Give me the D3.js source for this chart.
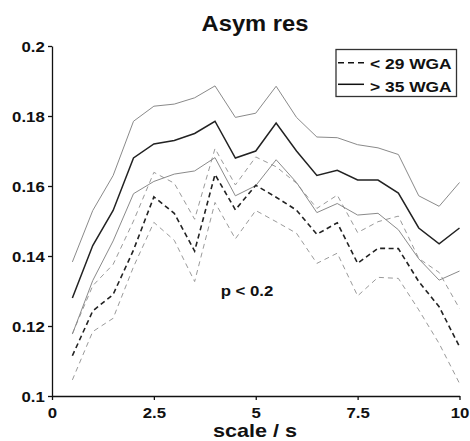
<!DOCTYPE html>
<html><head><meta charset="utf-8">
<script src="https://cdn.jsdelivr.net/npm/d3@7"></script>
<style>
html,body{margin:0;padding:0;background:#fff;}
svg{display:block;}
text{font-family:"Liberation Sans",Arial,sans-serif;font-weight:bold;fill:#111;}
</style></head>
<body>
<svg id="chart" width="470" height="441"></svg>
<script>
// ---- data ----
const scales = [0.5,1,1.5,2,2.5,3,3.5,4,4.5,5,5.5,6,6.5,7,7.5,8,8.5,9,9.5,10];
const late_mean  = [0.128,0.143,0.153,0.168,0.172,0.173,0.175,0.1785,0.168,0.170,0.178,0.170,0.163,0.1645,0.1617,0.1617,0.158,0.148,0.1435,0.148];
const late_upper = [0.1383,0.153,0.163,0.1785,0.1828,0.1834,0.1852,0.1886,0.1796,0.1808,0.1885,0.1796,0.174,0.1738,0.1718,0.1709,0.169,0.1572,0.1542,0.161];
const late_lower = [0.1177,0.133,0.1443,0.1578,0.1613,0.1634,0.1643,0.1681,0.1572,0.1601,0.1675,0.161,0.1524,0.155,0.1517,0.1522,0.1475,0.1392,0.1331,0.1357];
const early_mean  = [0.1115,0.1243,0.129,0.1417,0.1569,0.1522,0.1414,0.1633,0.1532,0.1602,0.1568,0.1531,0.1462,0.1495,0.1379,0.1422,0.1421,0.1327,0.1255,0.1141];
const early_upper = [0.1178,0.1315,0.1376,0.150,0.1639,0.1608,0.1505,0.1707,0.1603,0.1683,0.1655,0.1608,0.1536,0.1574,0.1467,0.1498,0.1514,0.1393,0.1353,0.125];
const early_lower = [0.1046,0.1184,0.1222,0.1369,0.1496,0.1445,0.1327,0.1553,0.1449,0.153,0.1498,0.1465,0.1379,0.1408,0.1286,0.1339,0.1336,0.1246,0.115,0.1036];
const xTicks = [0,2.5,5,7.5,10];
const xTickLabels = ["0","2.5","5","7.5","10"];
const yTicks = [0.1,0.12,0.14,0.16,0.18,0.2];
const yTickLabels = ["0.1","0.12","0.14","0.16","0.18","0.2"];
const legendLabels = ["< 29 WGA","> 35 WGA"];
const titleText = "Asym res";
const xTitle = "scale / s";
const annotation = "p < 0.2";

// ---- layout ----
const svg = d3.select("#chart");
const x = d3.scaleLinear().domain([0,10]).range([52,459.5]);
const y = d3.scaleLinear().domain([0.1,0.2]).range([396,46]);

function stext(g, px, py, str, size, sx, anchor){
  return g.append("g").attr("transform",`translate(${px},${py})`)
    .append("text").attr("transform",`scale(${sx},1)`)
    .attr("text-anchor",anchor).attr("font-size",size).text(str);
}

// axes
const yAxis = d3.axisLeft(y).tickValues(yTicks).tickFormat((d,i)=>yTickLabels[i])
  .tickSize(4).tickSizeOuter(0).tickPadding(2.5);
const gy = svg.append("g").attr("transform","translate(52,0)").call(yAxis);
gy.selectAll("text").attr("font-size",15).attr("fill","#111")
  .attr("font-family","Liberation Sans, Arial, sans-serif").attr("font-weight","bold")
  .attr("transform","scale(1.12,1)").attr("dy","0.36em");

const xAxis = d3.axisBottom(x).tickValues(xTicks).tickFormat((d,i)=>xTickLabels[i])
  .tickSize(4).tickSizeOuter(0).tickPadding(7);
const gx = svg.append("g").attr("transform","translate(0,396)").call(xAxis);
gx.selectAll("text").attr("font-size",15).attr("fill","#111")
  .attr("font-family","Liberation Sans, Arial, sans-serif").attr("font-weight","bold")
  .attr("transform","scale(1.12,1)")
  .attr("x",function(d){return 0;});
// scale about tick position: text x is 0 relative to tick group, so fine
[gx,gy].forEach(g=>{
  g.selectAll(".domain").attr("stroke","#111").attr("stroke-width",1.3);
  g.selectAll(".tick line").attr("stroke","#111").attr("stroke-width",1.3);
});

// lines
const line = d3.line().x((d,i)=>x(scales[i])).y(d=>y(d));
const series = [
  {v:early_upper, c:"#9a9a9a", w:1, dash:"5,4"},
  {v:early_lower, c:"#9a9a9a", w:1, dash:"5,4"},
  {v:late_upper,  c:"#8a8a8a", w:1, dash:null},
  {v:late_lower,  c:"#8a8a8a", w:1, dash:null},
  {v:early_mean,  c:"#222", w:1.6, dash:"5,3.5"},
  {v:late_mean,   c:"#222", w:1.5, dash:null}
];
series.forEach(s=>{
  svg.append("path").datum(s.v).attr("d",line).attr("fill","none")
    .attr("stroke",s.c).attr("stroke-width",s.w)
    .attr("stroke-dasharray",s.dash).attr("stroke-linejoin","miter");
});

// title, axis title, annotation
stext(svg, 255, 30.7, titleText, 22, 1.08, "middle");
stext(svg, 255, 437, xTitle, 18, 1.2, "middle");
stext(svg, 247, 295.5, annotation, 15, 1.12, "middle");

// legend
const lg = svg.append("g");
lg.append("rect").attr("x",336).attr("y",49.5).attr("width",120.5).attr("height",47)
  .attr("fill","#fff").attr("stroke","#333").attr("stroke-width",1.3);
lg.append("line").attr("x1",338).attr("x2",364).attr("y1",62.7).attr("y2",62.7)
  .attr("stroke","#111").attr("stroke-width",1.5).attr("stroke-dasharray","6,4");
lg.append("line").attr("x1",338).attr("x2",364).attr("y1",84.3).attr("y2",84.3)
  .attr("stroke","#111").attr("stroke-width",1.5);
stext(lg, 370, 68.8, legendLabels[0], 15, 1.16, "start");
stext(lg, 370, 92.3, legendLabels[1], 15, 1.16, "start");
</script>
</body></html>
